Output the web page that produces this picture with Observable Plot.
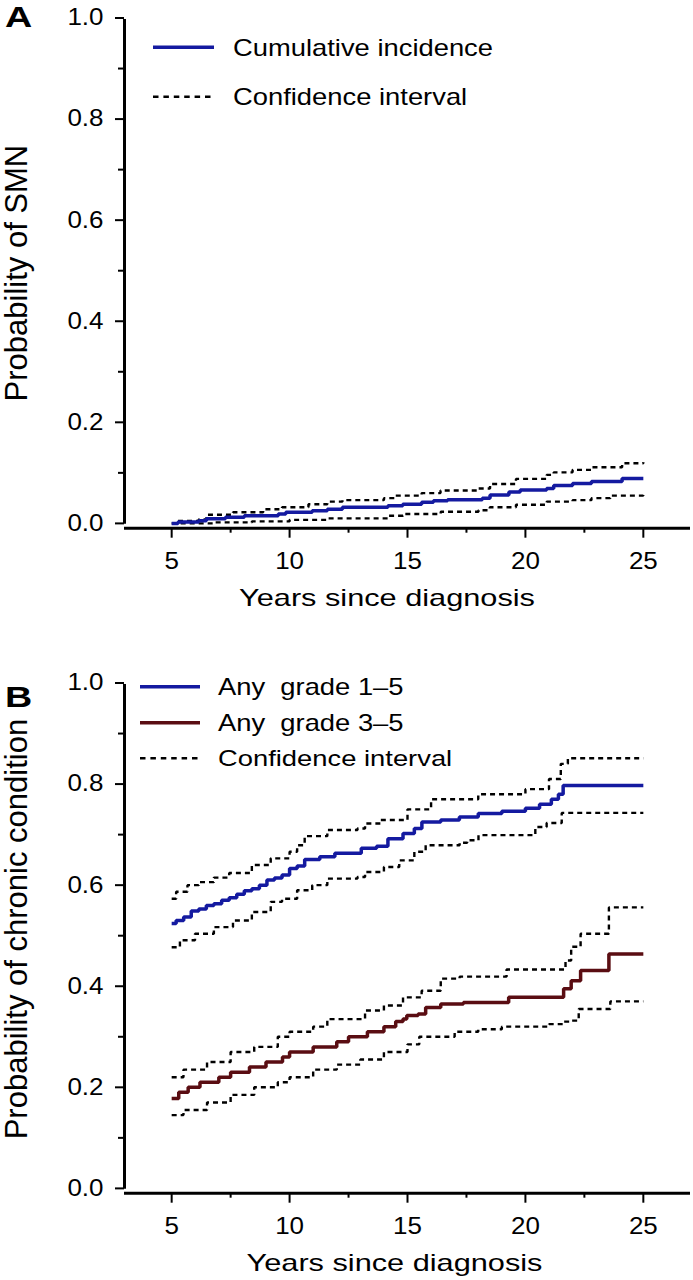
<!DOCTYPE html>
<html>
<head>
<meta charset="utf-8">
<script src="https://cdn.jsdelivr.net/npm/d3@7"></script>
<script src="https://cdn.jsdelivr.net/npm/@observablehq/plot@0.6"></script>
<style>
  html, body { margin: 0; padding: 0; background: #fff; }
  #wrap { position: relative; width: 693px; height: 1280px; overflow: hidden; }
  .panel { position: absolute; left: 0; width: 693px; }
  .panel svg.overlay { position: absolute; left: 0; top: 0; pointer-events: none; }
  .panel > svg:first-child { position: absolute; left: 0; top: 0; }
</style>
</head>
<body>
<div id="wrap"></div>
<script>
// ---------------- DATA ----------------
// Panel A: second malignant neoplasm (SMN)
const smnYears  = [5.0, 5.27, 6.15, 6.47, 7.28, 8.08, 9.52, 9.84, 10.96, 11.6, 12.24, 14.17, 14.8, 15.6, 16.1, 16.7, 18.17, 18.5, 19.3, 19.78, 20.9, 21.2, 22.0, 22.8, 24.1, 25.0];
const smnProb   = [0, 0.003, 0.005, 0.009, 0.012, 0.015, 0.0185, 0.022, 0.025, 0.028, 0.032, 0.035, 0.038, 0.042, 0.045, 0.047, 0.05, 0.056, 0.062, 0.066, 0.069, 0.075, 0.079, 0.083, 0.089, 0.089];
const smnUpperYears = [5.27, 6.15, 6.47, 7.6, 8.88, 9.68, 10.8, 11.6, 12.24, 14.0, 14.5, 15.6, 16.4, 18.0, 18.5, 19.6, 20.9, 21.2, 22.0, 22.8, 24.1, 25.0];
const smnUpper      = [0.005, 0.008, 0.017, 0.022, 0.028, 0.032, 0.038, 0.043, 0.046, 0.05, 0.055, 0.06, 0.065, 0.069, 0.078, 0.088, 0.096, 0.101, 0.106, 0.111, 0.119, 0.121];
const smnLowerYears = [5.0, 6.79, 8.4, 10.0, 11.6, 14.17, 14.81, 16.41, 18.01, 18.49, 19.6, 20.9, 22.0, 22.8, 23.6, 25.0];
const smnLower      = [0, 0.002, 0.004, 0.007, 0.01, 0.015, 0.0185, 0.023, 0.026, 0.032, 0.037, 0.043, 0.046, 0.05, 0.055, 0.058];

// Panel B: chronic conditions, any grade 1-5
const g15Years = [5.0, 5.19, 5.51, 5.83, 6.15, 6.47, 6.79, 7.12, 7.44, 7.76, 8.08, 8.4, 8.72, 9.04, 9.36, 9.68, 10.0, 10.32, 10.64, 11.28, 11.92, 13.04, 13.69, 14.17, 14.81, 15.29, 15.61, 16.41, 17.2, 18.0, 19.0, 20.0, 20.6, 21.1, 21.4, 21.6, 25.0];
const g15Prob  = [0.524, 0.530, 0.537, 0.549, 0.553, 0.560, 0.563, 0.570, 0.575, 0.582, 0.589, 0.593, 0.600, 0.610, 0.614, 0.620, 0.633, 0.638, 0.651, 0.656, 0.663, 0.673, 0.677, 0.692, 0.702, 0.712, 0.725, 0.729, 0.735, 0.742, 0.746, 0.752, 0.760, 0.770, 0.780, 0.797, 0.797];
const g15UpperYears = [5.0, 5.19, 5.67, 6.15, 6.79, 7.44, 8.4, 9.2, 10.0, 10.32, 10.64, 11.6, 12.88, 13.2, 13.85, 15.0, 16.0, 18.0, 20.0, 21.0, 21.5, 21.8, 25.0];
const g15Upper      = [0.573, 0.587, 0.600, 0.606, 0.615, 0.624, 0.640, 0.653, 0.666, 0.679, 0.697, 0.709, 0.712, 0.722, 0.729, 0.750, 0.770, 0.780, 0.790, 0.810, 0.840, 0.851, 0.851];
const g15LowerYears = [5.0, 5.35, 5.99, 6.79, 7.6, 8.4, 9.2, 9.68, 10.32, 10.96, 11.6, 12.88, 13.2, 14.0, 14.65, 15.29, 15.77, 17.21, 17.53, 18.01, 19.94, 20.42, 20.9, 21.54, 25.0];
const g15Lower      = [0.477, 0.491, 0.504, 0.517, 0.530, 0.547, 0.567, 0.573, 0.590, 0.600, 0.613, 0.616, 0.626, 0.636, 0.649, 0.666, 0.679, 0.684, 0.689, 0.699, 0.699, 0.715, 0.723, 0.743, 0.743];

// Panel B: chronic conditions, any grade 3-5
const g35Years = [5.0, 5.3, 5.7, 6.2, 7.0, 7.5, 8.3, 9.0, 9.7, 10.0, 11.0, 12.0, 12.5, 13.3, 14.0, 14.5, 14.81, 14.97, 15.45, 15.77, 16.41, 17.37, 19.29, 21.62, 21.94, 22.34, 23.54, 25.0];
const g35Prob  = [0.178, 0.19, 0.20, 0.21, 0.22, 0.23, 0.24, 0.25, 0.26, 0.27, 0.28, 0.29, 0.30, 0.31, 0.32, 0.33, 0.335, 0.342, 0.345, 0.358, 0.365, 0.368, 0.378, 0.395, 0.411, 0.431, 0.464, 0.464];
const g35UpperYears = [5.0, 5.5, 6.5, 7.5, 8.5, 9.5, 10.0, 11.0, 11.6, 13.2, 14.0, 14.81, 15.6, 16.41, 17.21, 19.2, 21.7, 21.94, 22.34, 23.54, 25.0];
const g35Upper      = [0.22, 0.235, 0.25, 0.27, 0.28, 0.30, 0.31, 0.32, 0.335, 0.352, 0.362, 0.378, 0.391, 0.415, 0.419, 0.433, 0.451, 0.478, 0.504, 0.556, 0.556];
const g35LowerYears = [5.0, 5.5, 6.5, 7.5, 8.5, 9.5, 10.0, 11.0, 12.0, 13.0, 14.0, 15.0, 15.5, 17.0, 18.0, 19.0, 21.0, 21.6, 21.86, 22.26, 23.6, 25.0];
const g35Lower      = [0.145, 0.155, 0.17, 0.185, 0.20, 0.21, 0.22, 0.235, 0.245, 0.255, 0.27, 0.285, 0.30, 0.31, 0.315, 0.32, 0.325, 0.33, 0.332, 0.355, 0.370, 0.370];

// Ticks and labels
const xMajorTicks = [5, 10, 15, 20, 25];
const xMinorTicks = [7.5, 12.5, 17.5, 22.5];
const yMajorTicks = [0, 0.2, 0.4, 0.6, 0.8, 1.0];
const yMinorTicks = [0.1, 0.3, 0.5, 0.7, 0.9];
const xTitle = "Years since diagnosis";
const yTitleA = "Probability of SMN";
const yTitleB = "Probability of chronic condition";
const legendLabelsA = ["Cumulative incidence", "Confidence interval"];
const legendLabelsB = ["Any  grade 1\u20135", "Any  grade 3\u20135", "Confidence interval"];

// ---------------- STYLE / LAYOUT ----------------
const X_DOMAIN = [3, 27];
const Y_DOMAIN = [-0.0095, 1];
const BLUE = "#141aa0", MAROON = "#5a0d12", BLACK = "#000";
const FONT = "'Liberation Sans', Arial, sans-serif";
const DASH = "5,4";
const S_TICK = 1.13, S_XTITLE = 1.28, S_LEG = 1.19, S_LETTER = 1.3;

function solid(x, y, color) { return {x, y, stroke: color, width: 3.5, dash: null}; }
function ci(x, y) { return {x, y, stroke: BLACK, width: 2.4, dash: DASH}; }

const panels = [
  {
    top: 0, height: 665, letter: "A", letterBaseline: 27.3,
    yTitle: yTitleA, yTitleDy: 0, xTitleDx: -20.5,
    series: [ci(smnUpperYears, smnUpper), ci(smnLowerYears, smnLower), solid(smnYears, smnProb, BLUE)],
    legend: legendLabelsA.map((label, i) => ({label, stroke: i === 0 ? BLUE : BLACK, dash: i === 0 ? null : DASH})),
    legendRows: [47.3, 96.7], legendX: [153, 214, 233]
  },
  {
    top: 665, height: 615, letter: "B", letterBaseline: 41.7,
    yTitle: yTitleB, yTitleDy: -9, xTitleDx: -13,
    series: [ci(g15UpperYears, g15Upper), ci(g15LowerYears, g15Lower), ci(g35UpperYears, g35Upper), ci(g35LowerYears, g35Lower),
             solid(g15Years, g15Prob, BLUE), solid(g35Years, g35Prob, MAROON)],
    legend: legendLabelsB.map((label, i) => ({label, stroke: [BLUE, MAROON, BLACK][i], dash: i === 2 ? DASH : null})),
    legendRows: [21.7, 57.7, 93.3], legendX: [140, 200, 218]
  }
];

const AXIS_Y_PX = 527.7; // frame bottom within each panel

const wrap = document.getElementById("wrap");

for (const p of panels) {
  const div = document.createElement("div");
  div.className = "panel";
  div.style.top = p.top + "px";
  div.style.height = p.height + "px";
  wrap.appendChild(div);

  const chart = Plot.plot({
    width: 693,
    height: p.height,
    marginLeft: 124,
    marginRight: 3,
    marginTop: 17.5,
    marginBottom: p.height - AXIS_Y_PX,
    x: {domain: X_DOMAIN},
    y: {domain: Y_DOMAIN},
    style: {fontFamily: FONT, fontSize: "23px", color: "#000", background: "transparent", overflow: "visible"},
    marks: [
      Plot.axisX({ticks: xMajorTicks, tickSize: 10, tickPadding: 14, tickFormat: d => String(d), strokeWidth: 2, label: null, fontSize: 23}),
      Plot.axisX({ticks: xMinorTicks, tickSize: 5, tickFormat: () => "", strokeWidth: 2, label: null}),
      Plot.axisY({ticks: yMajorTicks, tickSize: 9, tickPadding: 12, tickFormat: d3.format(".1f"), strokeWidth: 2, label: null, fontSize: 23}),
      Plot.axisY({ticks: yMinorTicks, tickSize: 6, tickFormat: () => "", strokeWidth: 2, label: null}),
      Plot.ruleX([X_DOMAIN[0]], {y1: Y_DOMAIN[0], y2: Y_DOMAIN[1], strokeWidth: 3, insetTop: -4, insetBottom: -1.5}),
      Plot.ruleY([Y_DOMAIN[0]], {x1: X_DOMAIN[0], x2: X_DOMAIN[1], strokeWidth: 3}),
      ...p.series.map(s => Plot.line(s.y, {
        x: s.x, y: s.y, curve: "step-after",
        stroke: s.stroke, strokeWidth: s.width,
        strokeDasharray: s.dash || undefined,
        strokeLinejoin: "miter", strokeLinecap: "butt"
      })),
      Plot.text([p.yTitle], {frameAnchor: "left", rotate: -90, dx: -107, dy: p.yTitleDy, fontSize: 31, textAnchor: "middle", lineAnchor: "middle"}),
      Plot.text([xTitle], {frameAnchor: "bottom", dx: p.xTitleDx, dy: 70.5, fontSize: 24, textAnchor: "middle", lineAnchor: "middle"})
    ]
  });
  div.appendChild(chart);

  // horizontal stretch of text to mimic the source's wide lettering
  chart.querySelectorAll("text").forEach(t => {
    const txt = t.textContent;
    if (!txt || txt === p.yTitle) return;
    const s = txt === xTitle ? S_XTITLE : S_TICK;
    const tr = t.getAttribute("transform") || "";
    t.setAttribute("transform", tr + ` scale(${s},1)`);
  });

  // overlay: panel letter and legend
  const ov = d3.select(div).append("svg")
    .attr("class", "overlay")
    .attr("width", 693).attr("height", 130)
    .style("font-family", FONT);

  ov.append("text")
    .attr("transform", `translate(5,${p.letterBaseline}) scale(${S_LETTER},1)`)
    .attr("font-size", 29).attr("font-weight", "bold").attr("fill", "#000")
    .text(p.letter);

  const [lx1, lx2, tx] = p.legendX;
  const rows = ov.selectAll("g.row").data(p.legend).join("g")
    .attr("class", "row")
    .attr("transform", (d, i) => `translate(0,${p.legendRows[i]})`);
  rows.append("line")
    .attr("x1", lx1).attr("x2", lx2).attr("y1", 0).attr("y2", 0)
    .attr("stroke", d => d.stroke)
    .attr("stroke-width", d => d.dash ? 2.4 : 3.5)
    .attr("stroke-dasharray", d => d.dash ? "5.5,4.9" : null);
  rows.append("text")
    .attr("transform", `translate(${tx},8.2) scale(${S_LEG},1)`)
    .attr("font-size", 23).attr("fill", "#000")
    .style("white-space", "pre")
    .attr("xml:space", "preserve")
    .text(d => d.label);
}
</script>
</body>
</html>
